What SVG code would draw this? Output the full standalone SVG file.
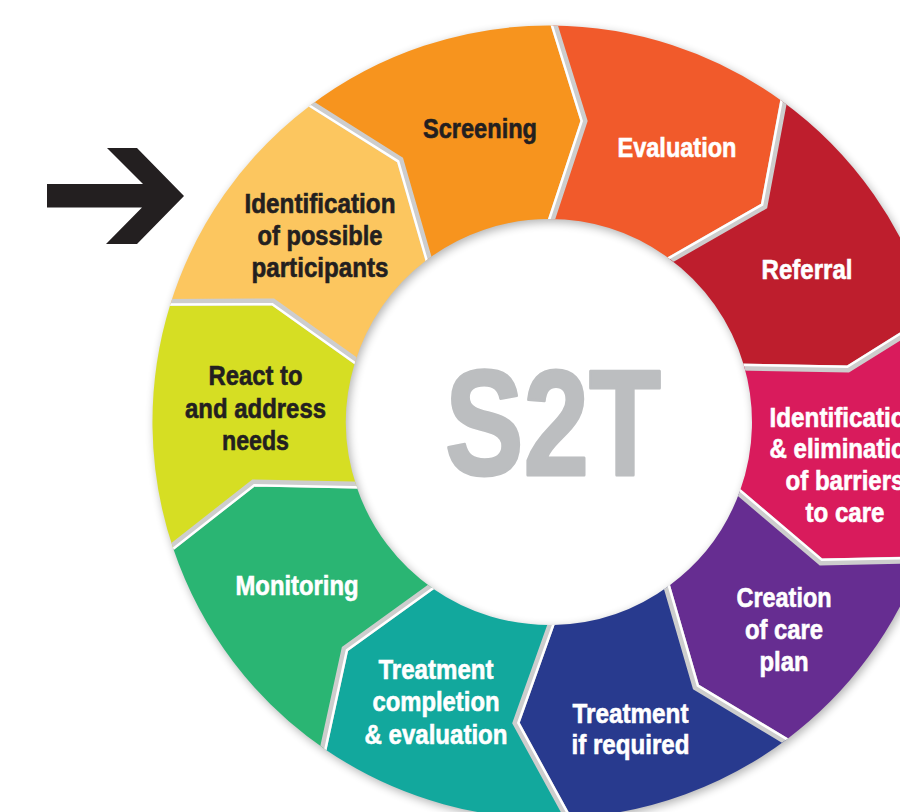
<svg xmlns="http://www.w3.org/2000/svg" xmlns:xlink="http://www.w3.org/1999/xlink" width="900" height="812" viewBox="0 0 900 812">
<defs>
<style>
.lbl{font-family:"Liberation Sans",Arial,sans-serif;font-weight:bold;font-size:28px;text-anchor:middle;stroke-width:0.6px}
.dk{fill:#231F20;stroke:#231F20}
.wt{fill:#FFFFFF;stroke:#FFFFFF}
.gap{fill:none;stroke:#CDCDCD;stroke-width:7;stroke-linejoin:miter}
.gapw{fill:none;stroke:#FFFFFF;stroke-width:2.5;stroke-linejoin:miter}
</style>
<filter id="blur" x="-10%" y="-10%" width="120%" height="120%"><feGaussianBlur stdDeviation="5"/></filter>
<clipPath id="ringclip"><path clip-rule="evenodd" d="M152.5,422 A396.5,396.5 0 1 1 945.5,422 A396.5,396.5 0 1 1 152.5,422 Z M346,422 A203,203 0 1 0 752,422 A203,203 0 1 0 346,422 Z"/></clipPath>
<path id="ring" fill-rule="evenodd" d="M152.5,422 A396.5,396.5 0 1 1 945.5,422 A396.5,396.5 0 1 1 152.5,422 Z M346,422 A203,203 0 1 0 752,422 A203,203 0 1 0 346,422 Z"/>
</defs>
<rect width="900" height="812" fill="#FFFFFF"/>
<use xlink:href="#ring" href="#ring" fill="#000" opacity="0.3" filter="url(#blur)" transform="translate(2,3)"/>

<g id="node-identification">
<path fill="#FCC65F" d="M170.2,304.8 A396.5,396.5 0 0 1 309.3,106.2 L400,160 L426,260.5 A203,203 0 0 0 354.7,363.3 L273,302 Z"/>
<text class="lbl dk" x="320" y="213" textLength="151" lengthAdjust="spacingAndGlyphs">Identification</text>
<text class="lbl dk" x="320" y="245" textLength="125" lengthAdjust="spacingAndGlyphs">of possible</text>
<text class="lbl dk" x="320" y="277" textLength="137" lengthAdjust="spacingAndGlyphs">participants</text>
</g>
<g id="node-screening">
<path fill="#F7941E" d="M309.3,106.2 A396.5,396.5 0 0 1 551.8,25.5 L584,121 L549,219 A203,203 0 0 0 426,260.5 L400,160 Z"/>
<text class="lbl dk" x="480" y="138" textLength="114" lengthAdjust="spacingAndGlyphs">Screening</text>
</g>
<g id="node-evaluation">
<path fill="#F15A2B" d="M551.8,25.5 A396.5,396.5 0 0 1 780.4,100 L764,206 L667.7,257.4 A203,203 0 0 0 549,219 L584,121 Z"/>
<text class="lbl wt" x="677" y="157" textLength="119" lengthAdjust="spacingAndGlyphs">Evaluation</text>
</g>
<g id="node-referral">
<path fill="#BE1E2D" d="M780.4,100 A396.5,396.5 0 0 1 930.7,314.7 L848,369 L743.7,364.7 A203,203 0 0 0 667.7,257.4 L764,206 Z"/>
<text class="lbl wt" x="807" y="279" textLength="91" lengthAdjust="spacingAndGlyphs">Referral</text>
</g>
<g id="node-barriers">
<path fill="#D91B5C" d="M930.7,314.7 A396.5,396.5 0 0 1 921.8,557 L821,562 L740.4,489.8 A203,203 0 0 0 743.7,364.7 L848,369 Z"/>
<text class="lbl wt" x="845" y="427" textLength="151" lengthAdjust="spacingAndGlyphs">Identification</text>
<text class="lbl wt" x="845" y="458" textLength="151" lengthAdjust="spacingAndGlyphs">&amp; elimination</text>
<text class="lbl wt" x="845" y="490" textLength="119" lengthAdjust="spacingAndGlyphs">of barriers</text>
<text class="lbl wt" x="845" y="522" textLength="79" lengthAdjust="spacingAndGlyphs">to care</text>
</g>
<g id="node-care-plan">
<path fill="#662D91" d="M921.8,557 A396.5,396.5 0 0 1 787.6,738.7 L696,687 L669.5,585.4 A203,203 0 0 0 740.4,489.8 L821,562 Z"/>
<text class="lbl wt" x="784" y="607" textLength="95" lengthAdjust="spacingAndGlyphs">Creation</text>
<text class="lbl wt" x="784" y="639" textLength="78" lengthAdjust="spacingAndGlyphs">of care</text>
<text class="lbl wt" x="784" y="671" textLength="49" lengthAdjust="spacingAndGlyphs">plan</text>
</g>
<g id="node-treatment">
<path fill="#283A8E" d="M787.6,738.7 A396.5,396.5 0 0 1 571.8,817.8 L516,723 L554,624.9 A203,203 0 0 0 669.5,585.4 L696,687 Z"/>
<text class="lbl wt" x="630.5" y="723" textLength="116" lengthAdjust="spacingAndGlyphs">Treatment</text>
<text class="lbl wt" x="630.5" y="754" textLength="118" lengthAdjust="spacingAndGlyphs">if required</text>
</g>
<g id="node-completion">
<path fill="#12A89D" d="M571.8,817.8 A396.5,396.5 0 0 1 326.1,749.9 L345,649 L433.1,588.7 A203,203 0 0 0 554,624.9 L516,723 Z"/>
<text class="lbl wt" x="436" y="679" textLength="115" lengthAdjust="spacingAndGlyphs">Treatment</text>
<text class="lbl wt" x="436" y="711" textLength="127" lengthAdjust="spacingAndGlyphs">completion</text>
<text class="lbl wt" x="436" y="744" textLength="143" lengthAdjust="spacingAndGlyphs">&amp; evaluation</text>
</g>
<g id="node-monitoring">
<path fill="#2AB573" d="M326.1,749.9 A396.5,396.5 0 0 1 173.4,549.1 L253.5,483 L356.9,487.8 A203,203 0 0 0 433.1,588.7 L345,649 Z"/>
<text class="lbl wt" x="297" y="595" textLength="123" lengthAdjust="spacingAndGlyphs">Monitoring</text>
</g>
<g id="node-react">
<path fill="#D6DE23" d="M173.4,549.1 A396.5,396.5 0 0 1 170.2,304.8 L273,302 L354.7,363.3 A203,203 0 0 0 356.9,487.8 L253.5,483 Z"/>
<text class="lbl dk" x="255.5" y="385" textLength="94" lengthAdjust="spacingAndGlyphs">React to</text>
<text class="lbl dk" x="255.5" y="418" textLength="141" lengthAdjust="spacingAndGlyphs">and address</text>
<text class="lbl dk" x="255.5" y="450" textLength="67" lengthAdjust="spacingAndGlyphs">needs</text>
</g>

<g id="connectors">
<g clip-path="url(#ringclip)">
<polyline class="gap" points="162.6,302.4 273,302 362.3,365.6"/>
<polyline class="gap" points="304.4,99.8 400,160 430.8,266.9"/>
<polyline class="gap" points="551.8,17.5 584,121 549,227"/>
<polyline class="gap" points="785,93.5 764,206 663.1,263.8"/>
<polyline class="gap" points="938.4,312.5 848,369 736.1,366.9"/>
<polyline class="gap" points="929.3,559.7 821,562 732.8,487.1"/>
<polyline class="gap" points="792.4,745 696,687 664.7,579"/>
<polyline class="gap" points="572.3,825.8 516,723 553.8,616.9"/>
<polyline class="gap" points="321.6,756.6 345,649 437.7,582.1"/>
<polyline class="gap" points="165.9,551.7 253.5,483 364.5,485.2"/>
<polyline class="gapw" transform="translate(-0.67,2.2)" points="162.6,302.4 273,302 362.3,365.6"/>
<polyline class="gapw" transform="translate(-1.83,1.39)" points="304.4,99.8 400,160 430.8,266.9"/>
<polyline class="gapw" transform="translate(-2.3,0)" points="551.8,17.5 584,121 549,227"/>
<polyline class="gapw" transform="translate(-1.87,-1.34)" points="785,93.5 764,206 663.1,263.8"/>
<polyline class="gapw" transform="translate(-0.63,-2.21)" points="938.4,312.5 848,369 736.1,366.9"/>
<polyline class="gapw" transform="translate(0.78,-2.16)" points="929.3,559.7 821,562 732.8,487.1"/>
<polyline class="gapw" transform="translate(1.84,-1.37)" points="792.4,745 696,687 664.7,579"/>
<polyline class="gapw" transform="translate(2.3,-0.1)" points="572.3,825.8 516,723 553.8,616.9"/>
<polyline class="gapw" transform="translate(1.9,1.3)" points="321.6,756.6 345,649 437.7,582.1"/>
<polyline class="gapw" transform="translate(0.74,2.18)" points="165.9,551.7 253.5,483 364.5,485.2"/>
</g>
<polygon id="start-arrow" fill="#231F20" points="47,184 143,184 107,148 137,148 184,196 137,244 106,244 142,207.5 47,207.5"/>
</g>

<g id="center">
<text x="553" y="475" font-family="'Liberation Sans',Arial,sans-serif" font-weight="bold" font-size="151" fill="#BCBEC0" stroke="#BCBEC0" stroke-width="3" stroke-linejoin="round" text-anchor="middle" textLength="216" lengthAdjust="spacingAndGlyphs">S2T</text>
</g>
</svg>
